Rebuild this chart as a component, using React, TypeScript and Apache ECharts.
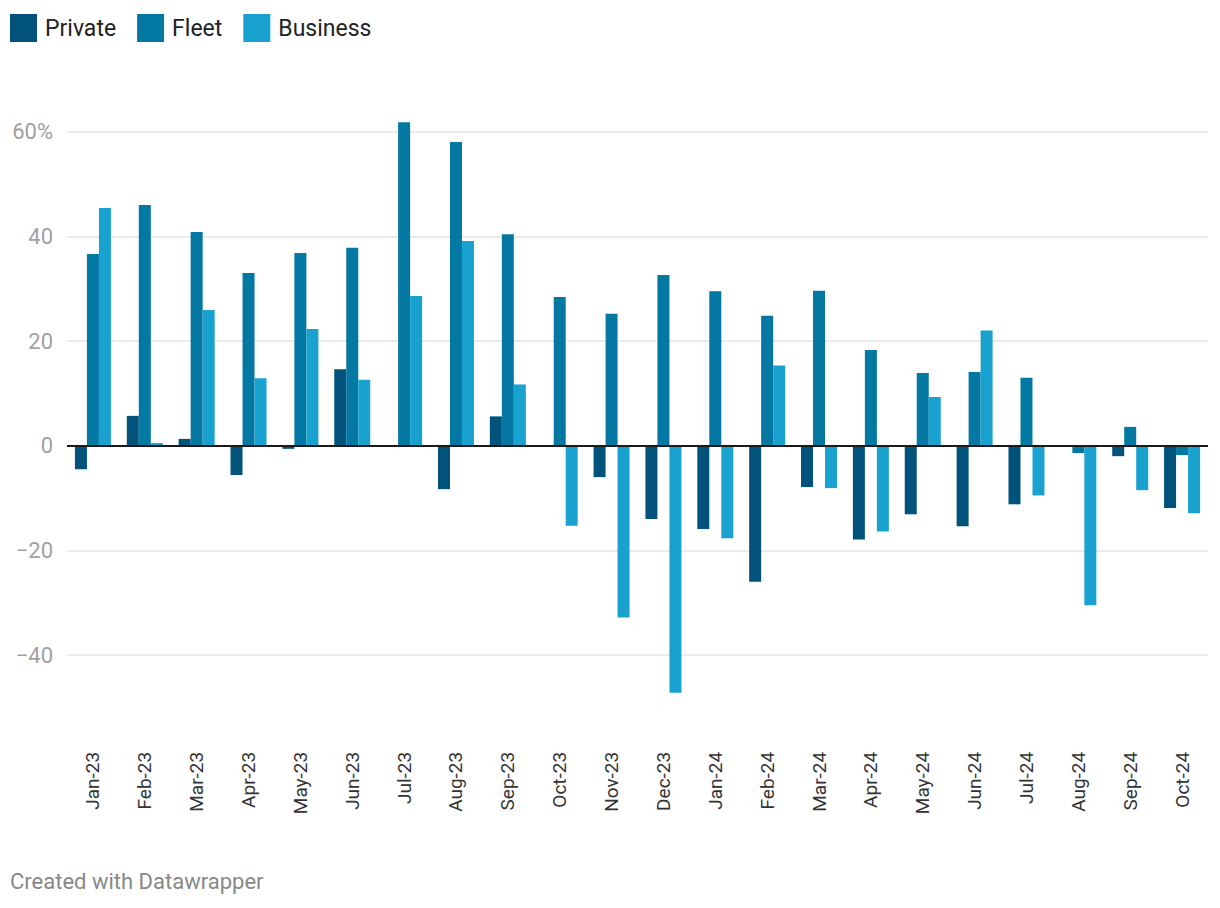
import React, { useEffect, useRef } from "react";
import * as echarts from "echarts";

const months = [
  "Jan-23", "Feb-23", "Mar-23", "Apr-23", "May-23", "Jun-23", "Jul-23", "Aug-23",
  "Sep-23", "Oct-23", "Nov-23", "Dec-23", "Jan-24", "Feb-24", "Mar-24", "Apr-24",
  "May-24", "Jun-24", "Jul-24", "Aug-24", "Sep-24", "Oct-24",
];
const privateValues = [-4.5, 5.7, 1.3, -5.6, -0.6, 14.6, 0, -8.3, 5.6, 0, -6.0, -14.0, -15.9, -26.0, -7.9, -17.9, -13.1, -15.4, -11.2, 0, -2.0, -11.9];
const fleetValues = [36.6, 46.0, 40.8, 33.0, 36.8, 37.8, 61.8, 58.0, 40.4, 28.4, 25.2, 32.6, 29.5, 24.8, 29.6, 18.3, 13.9, 14.1, 13.0, -1.4, 3.6, -1.8];
const businessValues = [45.4, 0.5, 25.9, 12.9, 22.3, 12.6, 28.6, 39.1, 11.7, -15.3, -32.8, -47.2, -17.7, 15.3, -8.1, -16.4, 9.3, 22.0, -9.5, -30.5, -8.5, -12.9];
const seriesNames = ["Private", "Fleet", "Business"];
const colors = ["#01537c", "#0378a3", "#19a1cf"];
const footerText = "Created with Datawrapper";

export default function App() {
  const ref = useRef<HTMLDivElement>(null);
  useEffect(() => {
    if (!ref.current) return;
    const chart = echarts.init(ref.current, null, { renderer: "svg" });
    const font = "Roboto";
    const allValues = [privateValues, fleetValues, businessValues];
    chart.setOption({
      animation: false,
      color: colors,
      textStyle: { fontFamily: font },
      legend: {
        left: 10,
        top: 14,
        padding: 0,
        icon: "rect",
        itemWidth: 27,
        itemHeight: 28,
        itemGap: 21,
        textStyle: { fontSize: 23, color: "#222", fontFamily: font, padding: [0, 0, 3, 3] },
        data: seriesNames,
      },
      grid: { left: 67, right: 12, top: 26.9, bottom: 148.2, containLabel: false },
      xAxis: {
        type: "category",
        data: months,
        offset: -16,
        axisLine: { show: false },
        axisTick: { show: false },
        axisLabel: {
          rotate: 90,
          margin: 8,
          fontSize: 19,
          color: "#333",
          fontFamily: font,
          interval: 0,
        },
      },
      yAxis: {
        type: "value",
        min: -60,
        max: 80,
        interval: 20,
        axisLine: { show: false },
        axisTick: { show: false },
        splitLine: {
          show: true,
          showMinLine: false,
          showMaxLine: false,
          lineStyle: { color: "#e4e4e4", width: 1.5 },
        },
        axisLabel: {
          margin: 14,
          fontSize: 22,
          color: "#a0a0a0",
          fontFamily: font,
          formatter: (v: number) => {
            if (v === -60 || v === 80) return "";
            if (v === 60) return "60%";
            if (v < 0) return "\u2212" + Math.abs(v);
            return String(v);
          },
        },
      },
      series: seriesNames.map((name, i) => ({
        name,
        type: "bar",
        data: allValues[i],
        barWidth: 12,
        barGap: "0%",
        itemStyle: { color: colors[i] },
        ...(i === 2
          ? {
              markLine: {
                silent: true,
                symbol: "none",
                label: { show: false },
                lineStyle: { color: "#1a1a1a", width: 2, type: "solid" },
                data: [{ yAxis: 0 }],
              },
            }
          : {}),
      })),
      graphic: [
        {
          type: "text",
          left: 10,
          top: 870,
          style: { text: footerText, fontSize: 22, fill: "#888", fontFamily: font },
        },
      ],
    });
    return () => chart.dispose();
  }, []);
  return (
    <div
      ref={ref}
      style={{ position: "absolute", left: 0, top: 0, width: 1220, height: 908 }}
    />
  );
}
